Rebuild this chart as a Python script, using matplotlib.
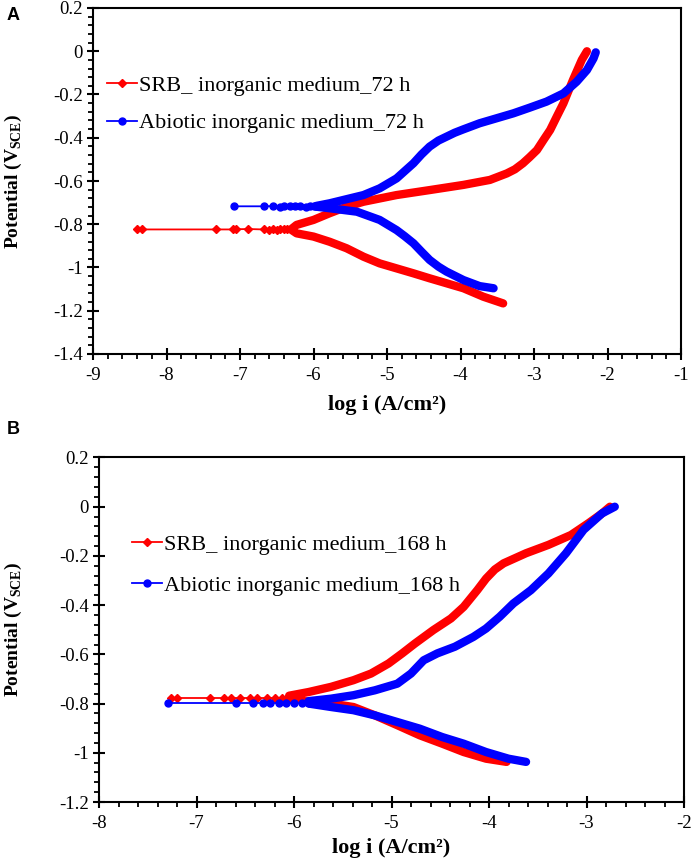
import matplotlib
matplotlib.use('Agg')
import matplotlib.pyplot as plt
from matplotlib.ticker import MultipleLocator

# ---- panel A : 72 h ----
a_srb_flat_x = [-8.40, -8.33, -7.32, -7.09, -7.05, -6.89, -6.68, -6.60, -6.55, -6.50, -6.45, -6.40, -6.36, -6.30]
a_srb_flat_y = [-0.824, -0.824, -0.824, -0.824, -0.823, -0.822, -0.824, -0.826, -0.823, -0.825, -0.822, -0.824, -0.823, -0.824]
a_srb_cath_x = [-6.30, -6.23, -6.00, -5.78, -5.55, -5.32, -5.10, -4.87, -4.64, -4.42, -4.19, -3.96, -3.69, -3.42]
a_srb_cath_y = [-0.826, -0.842, -0.857, -0.881, -0.911, -0.950, -0.981, -1.004, -1.027, -1.050, -1.073, -1.096, -1.135, -1.166]
a_srb_anod_x = [-6.30, -6.23, -6.00, -5.78, -5.55, -5.32, -4.87, -4.42, -3.96, -3.60, -3.37, -3.26,
                -3.15, -3.06, -2.96, -2.87, -2.78, -2.69, -2.60, -2.47, -2.35, -2.28]
a_srb_anod_y = [-0.822, -0.803, -0.780, -0.749, -0.719, -0.696, -0.665, -0.642, -0.618, -0.595, -0.565, -0.546,
                -0.518, -0.490, -0.457, -0.410, -0.364, -0.302, -0.241, -0.133, -0.040, 0.0]

a_abio_flat_x = [-7.08, -6.68, -6.55, -6.46, -6.40, -6.32, -6.25, -6.18, -6.10, -6.05, -6.00, -5.96]
a_abio_flat_y = [-0.717, -0.717, -0.716, -0.718, -0.717, -0.717, -0.716, -0.717, -0.718, -0.717, -0.717, -0.717]
a_abio_cath_x = [-5.96, -5.78, -5.41, -5.10, -4.87, -4.76, -4.64, -4.53, -4.42, -4.30, -4.19, -3.96, -3.74, -3.55]
a_abio_cath_y = [-0.719, -0.726, -0.742, -0.780, -0.827, -0.855, -0.888, -0.927, -0.965, -0.996, -1.019, -1.058, -1.086, -1.096]
a_abio_anod_x = [-5.96, -5.78, -5.32, -5.10, -4.87, -4.64, -4.53, -4.42, -4.30, -4.19, -4.08, -3.96, -3.74,
                 -3.51, -3.28, -3.06, -2.83, -2.60, -2.42, -2.28, -2.19, -2.16]
a_abio_anod_y = [-0.715, -0.703, -0.665, -0.634, -0.588, -0.518, -0.477, -0.441, -0.413, -0.395, -0.377, -0.361, -0.333,
                 -0.310, -0.287, -0.261, -0.233, -0.195, -0.141, -0.087, -0.033, -0.005]

# ---- panel B : 168 h ----
b_srb_flat_x = [-7.26, -7.20, -6.86, -6.72, -6.65, -6.55, -6.45, -6.38, -6.28, -6.20, -6.12, -6.05]
b_srb_flat_y = [-0.776] * 12
b_srb_cath_x = [-6.05, -5.90, -5.62, -5.39, -5.17, -4.94, -4.71, -4.48, -4.26, -4.03, -3.82]
b_srb_cath_y = [-0.776, -0.790, -0.800, -0.814, -0.848, -0.888, -0.929, -0.963, -0.997, -1.024, -1.037]
b_srb_anod_x = [-6.05, -5.85, -5.62, -5.39, -5.21, -5.03, -4.89, -4.76, -4.57, -4.39, -4.26, -4.12,
                -4.03, -3.94, -3.85, -3.62, -3.39, -3.16, -2.98, -2.84, -2.76]
b_srb_anod_y = [-0.768, -0.753, -0.732, -0.705, -0.678, -0.637, -0.596, -0.556, -0.501, -0.454, -0.407, -0.339,
                -0.292, -0.255, -0.230, -0.189, -0.155, -0.115, -0.067, -0.027, 0.0]

b_abio_flat_x = [-7.29, -6.59, -6.42, -6.32, -6.25, -6.15, -6.08, -6.00, -5.92, -5.85]
b_abio_flat_y = [-0.797] * 10
b_abio_cath_x = [-5.85, -5.62, -5.39, -5.17, -4.94, -4.71, -4.48, -4.26, -4.03, -3.80, -3.62]
b_abio_cath_y = [-0.800, -0.814, -0.827, -0.848, -0.875, -0.902, -0.936, -0.963, -0.997, -1.024, -1.037]
b_abio_anod_x = [-5.85, -5.62, -5.39, -5.17, -4.94, -4.80, -4.67, -4.53, -4.35, -4.16, -4.03, -3.89,
                 -3.75, -3.57, -3.39, -3.21, -3.03, -2.84, -2.71]
b_abio_anod_y = [-0.790, -0.780, -0.766, -0.746, -0.719, -0.678, -0.624, -0.596, -0.569, -0.529, -0.495, -0.447,
                 -0.393, -0.339, -0.271, -0.189, -0.094, -0.027, 0.0]

# ticks
a_xticks = [-9, -8, -7, -6, -5, -4, -3, -2, -1]
a_yticks = [0.2, 0, -0.2, -0.4, -0.6, -0.8, -1, -1.2, -1.4]
a_ylabels = ['0.2', '0', '-0.2', '-0.4', '-0.6', '-0.8', '-1', '-1.2', '-1.4']
b_xticks = [-8, -7, -6, -5, -4, -3, -2]
b_yticks = [0.2, 0, -0.2, -0.4, -0.6, -0.8, -1, -1.2]
b_ylabels = ['0.2', '0', '-0.2', '-0.4', '-0.6', '-0.8', '-1', '-1.2']

plt.rcParams['font.family'] = ['Liberation Serif', 'DejaVu Serif']
plt.rcParams['mathtext.fontset'] = 'custom'
plt.rcParams['mathtext.rm'] = 'Liberation Serif'
plt.rcParams['axes.unicode_minus'] = False

RED = '#ff0000'
BLUE = '#0000ff'

fig = plt.figure(figsize=(6.92, 8.63), dpi=100)
axA = fig.add_axes([93/692, 1 - 354/863, (681 - 93)/692, (354 - 8)/863])
axB = fig.add_axes([99/692, 1 - 802/863, (684 - 99)/692, (802 - 457.5)/863])


def draw(ax, fx, fy, cx, cy, px, py, col, mk, ms, lab):
    ax.plot(cx, cy, color=col, lw=6, solid_capstyle='round', solid_joinstyle='round')
    ax.plot(px, py, color=col, lw=6, solid_capstyle='round', solid_joinstyle='round')
    ax.plot(fx, fy, color=col, lw=1.3, marker=mk, ms=ms, label=lab)


def style(ax, xt, yt, yl):
    ax.set_xlim(xt[0], xt[-1])
    ax.set_ylim(yt[-1], yt[0])
    ax.set_xticks(xt)
    ax.set_xticklabels([str(v) for v in xt])
    ax.set_yticks(yt)
    ax.set_yticklabels(yl)
    ax.xaxis.set_minor_locator(MultipleLocator(0.2))
    ax.yaxis.set_minor_locator(MultipleLocator(0.04))
    ax.tick_params(which='major', direction='inout', length=9, width=1.5, labelsize=13.5)
    ax.tick_params(axis='x', which='major', pad=5)
    ax.tick_params(axis='y', which='major', pad=3)
    ax.tick_params(which='minor', direction='out', length=3.5, width=1.3)
    for s in ax.spines.values():
        s.set_linewidth(1.5)


draw(axA, a_srb_flat_x, a_srb_flat_y, a_srb_cath_x, a_srb_cath_y, a_srb_anod_x, a_srb_anod_y,
     RED, 'D', 4.5, 'SRB_ inorganic medium_72 h')
draw(axA, a_abio_flat_x, a_abio_flat_y, a_abio_cath_x, a_abio_cath_y, a_abio_anod_x, a_abio_anod_y,
     BLUE, 'o', 5, 'Abiotic inorganic medium_72 h')
style(axA, a_xticks, a_yticks, a_ylabels)

draw(axB, b_srb_flat_x, b_srb_flat_y, b_srb_cath_x, b_srb_cath_y, b_srb_anod_x, b_srb_anod_y,
     RED, 'D', 4.5, 'SRB_ inorganic medium_168 h')
draw(axB, b_abio_flat_x, b_abio_flat_y, b_abio_cath_x, b_abio_cath_y, b_abio_anod_x, b_abio_anod_y,
     BLUE, 'o', 5, 'Abiotic inorganic medium_168 h')
style(axB, b_xticks, b_yticks, b_ylabels)

for ax, bb, ls in ((axA, (0.024, 0.806), 0.77), (axB, (0.056, 0.776), 0.9)):
    ax.legend(loc='upper left', bbox_to_anchor=bb, frameon=False, fontsize=16,
              handlelength=1.35, handletextpad=0.1, borderpad=0, borderaxespad=0,
              labelspacing=ls, numpoints=1)
    ax.set_xlabel('log i (A/cm²)', fontsize=16, fontweight='bold')
    ax.set_ylabel(r'Potential (V$_{\mathregular{SCE}}$)', fontsize=14, fontweight='bold')

axA.xaxis.set_label_coords(0.5, -0.118)
axB.xaxis.set_label_coords(0.5, -0.104)
axA.yaxis.set_label_coords(-0.118, 0.5)
axB.yaxis.set_label_coords(-0.128, 0.5)

fig.text(7/692, 1 - 15/863, 'A', family='Liberation Sans', fontweight='bold', fontsize=13, va='center')
fig.text(7/692, 1 - 430/863, 'B', family='Liberation Sans', fontweight='bold', fontsize=13, va='center')

fig.savefig('out.png', dpi=100)
